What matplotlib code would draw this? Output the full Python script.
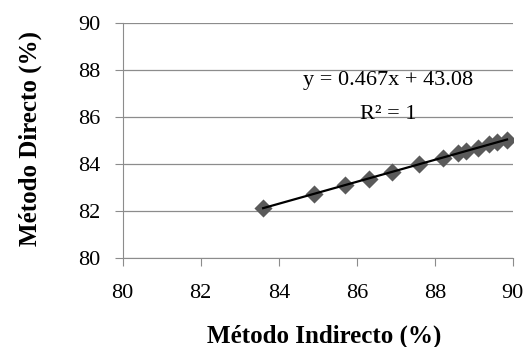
import matplotlib.pyplot as plt
import numpy as np

plt.rcParams['font.family'] = ['Liberation Serif', 'DejaVu Serif']

# values
indirecto = [83.6, 84.9, 85.7, 86.3, 86.9, 87.6, 88.2, 88.6, 88.8, 89.1, 89.4, 89.6, 89.85]
directo = [82.12, 82.73, 83.10, 83.38, 83.66, 83.99, 84.27, 84.46, 84.55, 84.69, 84.83, 84.92, 85.04]
ticks = [80, 82, 84, 86, 88, 90]

fig = plt.figure(figsize=(5.26, 3.47), dpi=100)
ax = fig.add_axes([0.2333, 0.2565, 0.7417, 0.6775])

ax.scatter(indirecto, directo, marker='D', s=85, color='#5a5a5a', zorder=3, linewidths=0)
# linear trendline
m, b = np.polyfit(indirecto, directo, 1)
xs = np.array([min(indirecto), max(indirecto)])
ax.plot(xs, m * xs + b, color='black', lw=1.6, zorder=4)

ax.set_xlim(80, 90)
ax.set_ylim(80, 90)
ax.set_xticks(ticks)
ax.set_yticks(ticks)
ax.grid(axis='y', color='#8c8c8c', lw=0.9)
ax.set_axisbelow(True)
for s in ['top', 'right']:
    ax.spines[s].set_visible(False)
for s in ['left', 'bottom']:
    ax.spines[s].set_color('#8c8c8c')
ax.tick_params(axis='x', length=6, color='#8c8c8c', pad=13, labelsize=16)
ax.tick_params(axis='y', length=6, color='#8c8c8c', pad=10, labelsize=16)

ax.text(86.8, 87.55, 'y = 0.467x + 43.08', ha='center', va='center', fontsize=16)
ax.text(86.8, 86.1, 'R² = 1', ha='center', va='center', fontsize=16)

fig.text(0.617, 0.032, 'Método Indirecto (%)', ha='center', va='center',
         fontsize=18, fontweight='bold')
fig.text(0.057, 0.602, 'Método Directo (%)', ha='center', va='center',
         fontsize=18, fontweight='bold', rotation=90)

fig.savefig('out.png', dpi=100)
